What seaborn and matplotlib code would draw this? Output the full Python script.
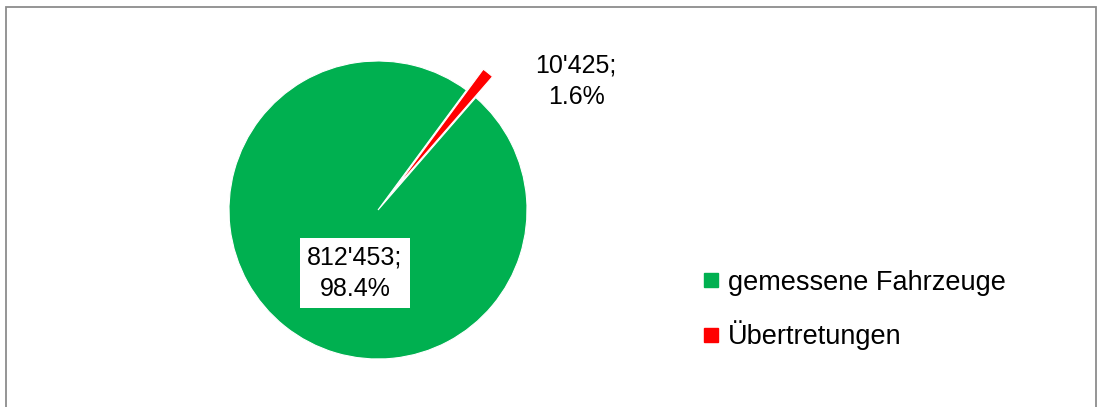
import matplotlib
matplotlib.use("Agg")
import matplotlib.pyplot as plt
from matplotlib.lines import Line2D
from matplotlib.patches import Rectangle
import seaborn as sns

# ----------------------------
# Data
# ----------------------------
categories = ["gemessene Fahrzeuge", "Übertretungen"]
counts = [812453, 10425]
count_labels = ["812'453", "10'425"]
percents = [98.4, 1.6]
colors = ["#00B050", "#FF0000"]

sns.set_theme(style="white")
plt.rcParams["font.family"] = ["Liberation Sans", "DejaVu Sans"]
plt.rcParams["text.color"] = "black"

fig = plt.figure(figsize=(10.98, 4.07), dpi=100)
W, H = 1098, 407

# pie axes: centre (378, 210) px, radius ~149 px
cx, cy, r = 378, 210, 149
half = 1.35 * r
ax = fig.add_axes([(cx - half) / W, (H - cy - half) / H, 2 * half / W, 2 * half / H])
ax.pie(
    counts,
    colors=colors,
    startangle=49,
    counterclock=False,
    explode=[0, 0.18],
    radius=1,
    wedgeprops=dict(edgecolor="white", linewidth=0.8),
)
ax.set_xlim(-1.35, 1.35)
ax.set_ylim(-1.35, 1.35)
ax.set_aspect("equal")
ax.axis("off")

# data labels
ax.text((355 - cx) / r, (cy - 273) / r,
        f"{count_labels[0]};\n{percents[0]}%", ha="center", va="center",
        fontsize=18, linespacing=1.4, color="black",
        bbox=dict(boxstyle="square,pad=0.3", fc="white", ec="none"))
ax.text((576 - cx) / r, (cy - 81) / r,
        f"{count_labels[1]};\n{percents[1]}%", ha="center", va="center",
        fontsize=18, linespacing=1.4, color="black")

# legend
handles = [Line2D([0], [0], marker="s", linestyle="none", markersize=10,
                  markerfacecolor=c, markeredgecolor=c) for c in colors]
leg = fig.legend(handles, categories, loc="upper left",
                 bbox_to_anchor=(691 / W, 1 - 259 / H), frameon=False,
                 fontsize=19.5, handlelength=0.7, handletextpad=0.25,
                 labelspacing=0.9, borderaxespad=0)
for t in leg.get_texts():
    t.set_color("black")

# outer chart border
fig.patches.append(Rectangle((6 / W, -0.05), (1096 - 6) / W, 1 - 7 / H + 0.05,
                             transform=fig.transFigure, fill=False,
                             edgecolor="#8c8c8c", linewidth=1.3))

fig.savefig("out.png", dpi=100, facecolor="white")
